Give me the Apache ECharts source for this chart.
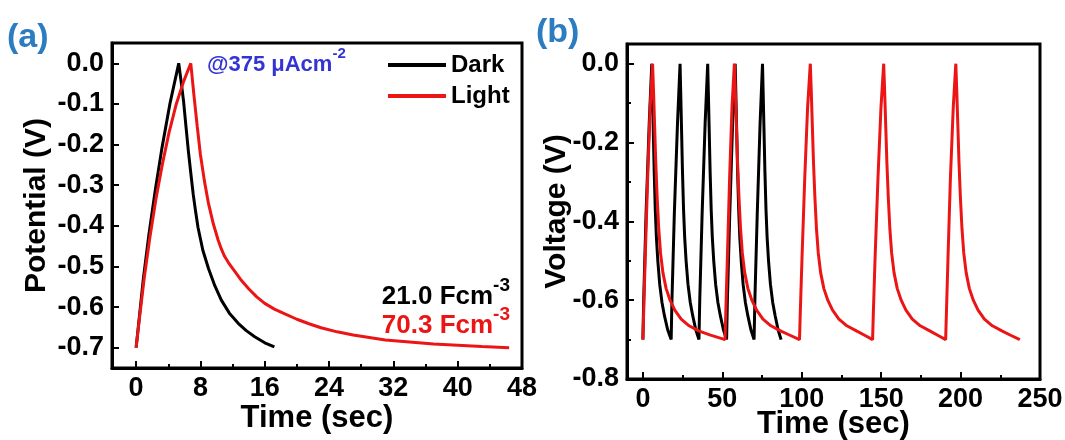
<!DOCTYPE html>
<html>
<head>
<meta charset="utf-8">
<script src="https://cdn.jsdelivr.net/npm/echarts@6/dist/echarts.min.js"></script>
<style>html,body{margin:0;padding:0;background:#fff}#c{width:1065px;height:440px}</style>
</head>
<body>
<div id="c"></div>
<script>
// ---- Panel (a): single charge/discharge curves ----
const darkA = [[0,-0.70],[0.4,-0.625],[0.9,-0.53],[1.6,-0.42],[2.4,-0.31],[3.2,-0.21],[4.2,-0.10],[5.3,0.0],
  [5.6,-0.045],[5.9,-0.093],[6.2,-0.155],[6.5,-0.216],[6.8,-0.27],[7.1,-0.322],[7.4,-0.365],[7.7,-0.404],
  [8.3,-0.46],[9.0,-0.505],[9.8,-0.548],[10.6,-0.583],[11.6,-0.615],[12.7,-0.64],[13.7,-0.658],
  [14.75,-0.673],[16.0,-0.688],[17.2,-0.698]];
const lightA = [[0,-0.70],[0.4,-0.63],[1.0,-0.53],[1.7,-0.43],[2.5,-0.33],[3.3,-0.245],[4.1,-0.17],[5.0,-0.10],[5.9,-0.045],[6.8,0.0],
  [7.2,-0.08],[7.6,-0.155],[8.0,-0.225],[8.5,-0.29],[9.0,-0.345],[9.6,-0.395],[10.2,-0.435],[10.6,-0.457],[11.0,-0.475],
  [11.5,-0.491],[12.0,-0.505],[13.0,-0.532],[14.0,-0.555],[15.0,-0.575],[16.0,-0.591],[17.2,-0.605],[18.5,-0.617],
  [20.0,-0.630],[21.5,-0.641],[23.0,-0.651],[25.0,-0.661],[27.0,-0.669],[29.0,-0.675],[31.0,-0.681],
  [34.0,-0.686],[37.0,-0.691],[40.0,-0.694],[43.0,-0.697],[46.4,-0.70]];

// ---- Panel (b): cycling ----
const darkB = [
  [0,-0.70],[0.5,-0.60],[2.0,-0.38],[4.0,-0.15],[5.6,0],[6.0,-0.07],[6.5,-0.16],[7.1,-0.27],[7.8,-0.37],[8.5,-0.44],[9.4,-0.50],[10.6,-0.56],[12.0,-0.605],[13.6,-0.64],[15.6,-0.675],[17.8,-0.70],
  [18.3,-0.60],[19.8,-0.38],[21.8,-0.15],[23.4,0],[23.8,-0.07],[24.3,-0.16],[24.9,-0.27],[25.6,-0.37],[26.3,-0.44],[27.2,-0.50],[28.4,-0.56],[29.8,-0.605],[31.4,-0.64],[33.3,-0.675],[35.3,-0.70],
  [35.8,-0.60],[37.3,-0.38],[39.2,-0.15],[40.8,0],[41.2,-0.07],[41.7,-0.16],[42.3,-0.27],[43.0,-0.37],[43.7,-0.44],[44.6,-0.50],[45.8,-0.56],[47.2,-0.605],[48.8,-0.64],[50.7,-0.675],[52.7,-0.70],
  [53.2,-0.60],[54.7,-0.38],[56.5,-0.15],[58.1,0],[58.5,-0.07],[59.0,-0.16],[59.6,-0.27],[60.3,-0.37],[61.0,-0.44],[61.9,-0.50],[63.1,-0.56],[64.5,-0.605],[66.1,-0.64],[68.0,-0.675],[70.0,-0.70],
  [70.5,-0.60],[72.0,-0.38],[73.8,-0.15],[75.3,0],[75.7,-0.07],[76.2,-0.16],[76.8,-0.27],[77.5,-0.37],[78.2,-0.44],[79.1,-0.50],[80.3,-0.56],[81.7,-0.605],[83.3,-0.64],[85.1,-0.675],[87.0,-0.70]];
const lightB = [
  [0,-0.70],[0.5,-0.63],[1.5,-0.49],[3.0,-0.29],[4.6,-0.11],[6.1,0],[6.7,-0.07],[7.4,-0.16],[8.1,-0.25],[9.0,-0.34],[10.0,-0.42],[11.1,-0.48],[12.6,-0.53],[14.6,-0.57],[17.1,-0.60],[20.1,-0.625],[24.1,-0.648],[29.1,-0.665],[35.1,-0.678],[42.1,-0.688],[51.7,-0.70],
  [52.2,-0.63],[53.2,-0.49],[54.6,-0.29],[56.1,-0.11],[57.6,0],[58.2,-0.07],[58.9,-0.16],[59.6,-0.25],[60.5,-0.34],[61.5,-0.42],[62.6,-0.48],[64.1,-0.53],[66.1,-0.57],[68.6,-0.60],[71.6,-0.625],[75.6,-0.648],[80.6,-0.665],[86.6,-0.678],[92.6,-0.689],[98.6,-0.70],
  [99.1,-0.63],[100.2,-0.49],[101.9,-0.29],[103.7,-0.11],[105.4,0],[106.0,-0.07],[106.7,-0.16],[107.4,-0.25],[108.3,-0.34],[109.3,-0.42],[110.4,-0.48],[111.9,-0.53],[113.9,-0.57],[116.4,-0.60],[119.4,-0.625],[123.4,-0.648],[128.4,-0.665],[134.4,-0.678],[139.6,-0.689],[144.6,-0.70],
  [145.1,-0.63],[146.2,-0.49],[148.0,-0.29],[149.9,-0.11],[151.6,0],[152.2,-0.07],[152.9,-0.16],[153.6,-0.25],[154.5,-0.34],[155.5,-0.42],[156.6,-0.48],[158.1,-0.53],[160.1,-0.57],[162.6,-0.60],[165.6,-0.625],[169.6,-0.648],[174.6,-0.665],[180.6,-0.678],[185.6,-0.689],[190.6,-0.70],
  [191.1,-0.63],[192.1,-0.49],[193.6,-0.29],[195.4,-0.11],[197.0,0],[197.6,-0.07],[198.3,-0.16],[199.0,-0.25],[199.9,-0.34],[200.9,-0.42],[202.0,-0.48],[203.5,-0.53],[205.5,-0.57],[208.0,-0.60],[211.0,-0.625],[215.0,-0.648],[220.0,-0.665],[226.0,-0.678],[231.5,-0.689],[237.3,-0.70]];

// ---- tick values ----
const xTicksA = [0, 8, 16, 24, 32, 40, 48];
const xMinorA = [4, 12, 20, 28, 36, 44];
const yTicksA = [0, -0.1, -0.2, -0.3, -0.4, -0.5, -0.6, -0.7];
const xTicksB = [0, 50, 100, 150, 200, 250];
const xMinorB = [25, 75, 125, 175, 225];
const yTicksB = [0, -0.2, -0.4, -0.6, -0.8];
const yMinorB = [-0.1, -0.3, -0.5, -0.7];

const FONT = 'Liberation Sans, Arial, sans-serif';
const RED = '#ec1515';
const TICKFS = 27;

function mainX(gi, min, max, ticks, name, gap) {
  return {
    type: 'value', gridIndex: gi, min: min, max: max, position: 'bottom',
    name: name, nameLocation: 'middle', nameGap: gap, nameMoveOverlap: false,
    nameTextStyle: {fontFamily: FONT, fontWeight: 'bold', fontSize: 31, color: '#000'},
    axisLine: {show: true, onZero: false, lineStyle: {color: '#000', width: 3}},
    axisTick: {show: true, inside: true, length: 7, customValues: ticks, lineStyle: {color: '#000', width: 2}},
    axisLabel: {show: true, customValues: ticks, margin: 7, fontFamily: FONT, fontWeight: 'bold', fontSize: TICKFS, color: '#000'},
    splitLine: {show: false}
  };
}
function minorX(gi, min, max, ticks) {
  return {
    type: 'value', gridIndex: gi, min: min, max: max, position: 'bottom',
    axisLine: {show: false, onZero: false},
    axisTick: {show: true, inside: true, length: 4, customValues: ticks, lineStyle: {color: '#000', width: 2}},
    axisLabel: {show: false}, splitLine: {show: false}
  };
}
function mainY(gi, min, max, ticks, name, gap) {
  return {
    type: 'value', gridIndex: gi, min: min, max: max, position: 'left',
    name: name, nameLocation: 'middle', nameGap: gap, nameRotate: 90, nameMoveOverlap: false,
    nameTextStyle: {fontFamily: FONT, fontWeight: 'bold', fontSize: 30, color: '#000'},
    axisLine: {show: true, onZero: false, lineStyle: {color: '#000', width: 3}},
    axisTick: {show: true, inside: true, length: 7, customValues: ticks, lineStyle: {color: '#000', width: 2}},
    axisLabel: {show: true, customValues: ticks, margin: 8, fontFamily: FONT, fontWeight: 'bold', fontSize: TICKFS, color: '#000',
      formatter: v => Number(v).toFixed(1)},
    splitLine: {show: false}
  };
}
function minorY(gi, min, max, ticks) {
  return {
    type: 'value', gridIndex: gi, min: min, max: max, position: 'left',
    axisLine: {show: false, onZero: false},
    axisTick: {show: true, inside: true, length: 4, customValues: ticks, lineStyle: {color: '#000', width: 2}},
    axisLabel: {show: false}, splitLine: {show: false}
  };
}
function supText(main, sup, color, fs, sfs) {
  return {
    text: '{m|' + main + '}{s|' + sup + '}',
    rich: {
      m: {fontFamily: FONT, fontWeight: 'bold', fontSize: fs, fill: color, lineHeight: fs + 8, verticalAlign: 'bottom'},
      s: {fontFamily: FONT, fontWeight: 'bold', fontSize: sfs, fill: color, lineHeight: sfs, verticalAlign: 'top'}
    }
  };
}

const chart = echarts.init(document.getElementById('c'), null, {renderer: 'canvas'});
chart.setOption({
  animation: false,
  backgroundColor: '#fff',
  grid: [
    {left: 112, top: 43, width: 410, height: 325, show: true, borderColor: '#000', borderWidth: 3, backgroundColor: 'transparent',
     containLabel: false, outerBoundsMode: 'none'},
    {left: 627, top: 44, width: 413, height: 335, show: true, borderColor: '#000', borderWidth: 3, backgroundColor: 'transparent',
     containLabel: false, outerBoundsMode: 'none'}
  ],
  xAxis: [
    mainX(0, -3, 48, xTicksA, 'Time (sec)', 35),
    minorX(0, -3, 48, xMinorA),
    mainX(1, -10, 250, xTicksB, 'Time (sec)', 30),
    minorX(1, -10, 250, xMinorB)
  ],
  yAxis: [
    mainY(0, -0.75, 0.05, yTicksA, 'Potential (V)', 60),
    mainY(1, -0.8, 0.05, yTicksB, 'Voltage (V)', 55),
    minorY(1, -0.8, 0.05, yMinorB)
  ],
  legend: {
    data: ['Dark', 'Light'], orient: 'vertical', left: 383, top: 48, itemWidth: 58, itemHeight: 4, itemGap: 7,
    icon: 'rect', textStyle: {fontFamily: FONT, fontWeight: 'bold', fontSize: 24, color: '#000'}
  },
  series: [
    {name: 'Dark', type: 'line', xAxisIndex: 0, yAxisIndex: 0, data: darkA, showSymbol: false, lineStyle: {color: '#000', width: 3}, itemStyle: {color: '#000'}},
    {name: 'Light', type: 'line', xAxisIndex: 0, yAxisIndex: 0, data: lightA, showSymbol: false, lineStyle: {color: RED, width: 3}, itemStyle: {color: RED}},
    {name: 'Dark', type: 'line', xAxisIndex: 2, yAxisIndex: 1, data: darkB, showSymbol: false, lineStyle: {color: '#000', width: 3}, itemStyle: {color: '#000'}},
    {name: 'Light', type: 'line', xAxisIndex: 2, yAxisIndex: 1, data: lightB, showSymbol: false, lineStyle: {color: RED, width: 3}, itemStyle: {color: RED}}
  ],
  graphic: [
    {type: 'text', left: 7, top: 21, style: {text: '(a)', fontFamily: FONT, fontWeight: 'bold', fontSize: 34, fill: '#2b7cc0'}},
    {type: 'text', left: 536, top: 16, style: {text: '(b)', fontFamily: FONT, fontWeight: 'bold', fontSize: 34, fill: '#2b7cc0'}},
    {type: 'text', left: 207, top: 46, style: supText('@375 μAcm', '-2', '#3434d4', 22, 15)},
    {type: 'text', right: 555, top: 276, style: supText('21.0 Fcm', '-3', '#000', 26, 19)},
    {type: 'text', right: 555, top: 305, style: supText('70.3 Fcm', '-3', RED, 26, 19)}
  ]
});
</script>
</body>
</html>
